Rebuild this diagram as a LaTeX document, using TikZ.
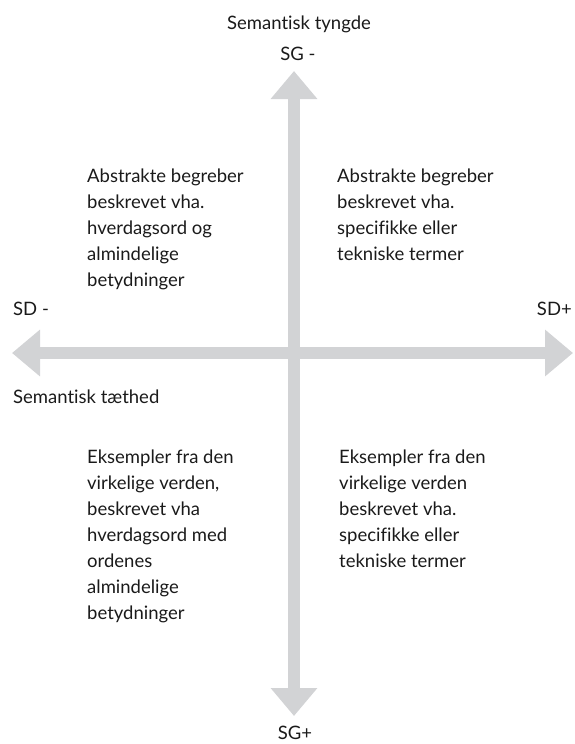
\documentclass[tikz,border=0pt]{standalone}
\usepackage{fontspec}
\setmainfont{Lato}[Ligatures={NoCommon}]
\usepackage{xcolor}
\definecolor{AxisGrey}{HTML}{D2D3D5}
\definecolor{TextDark}{HTML}{1A1A1A}
\usepackage{tikz}
\usetikzlibrary{arrows.meta,positioning}

\begin{document}
\begin{tikzpicture}[
        x=1pt, y=-1pt,
        axis/.style={AxisGrey, line width=12pt, {Triangle[width=45pt,length=28pt]}-{Triangle[width=45pt,length=28pt]}},
        pole/.style={font=\fontsize{18.5}{22}\selectfont, text=TextDark, inner sep=0pt},
        quadrant/.style={font=\fontsize{18.5}{26}\selectfont, text=TextDark, align=left, anchor=north west, inner sep=0pt}
    ]
        \useasboundingbox (0,0) rectangle (574,744);

        % Axes
        \coordinate (sgminus) at (294,71);
        \coordinate (sgplus) at (294,716);
        \coordinate (sdminus) at (12,353);
        \coordinate (sdplus) at (573,353);
        \draw[axis] (sdminus) -- (sdplus);
        \draw[axis] (sgminus) -- (sgplus);

        % Labels
        \node[pole, anchor=base] (tyngde) at (299,29) {Semantisk tyngde};
        \node[pole, anchor=base] (sgtop) at (298,60) {SG -};
        \node[pole, anchor=base] (sgbottom) at (295,739) {SG+};
        \node[pole, anchor=base west] (sdleft) at (13,315) {SD -};
        \node[pole, anchor=base east] (sdright) at (572,315) {SD+};
        \node[pole, anchor=base west] (taethed) at (13,403) {Semantisk tæthed};

        % Quadrants
        \node[quadrant] (abstrakthverdag) at (87,168.5) {Abstrakte begreber\\beskrevet vha.\\hverdagsord og\\almindelige\\betydninger};
        \node[quadrant] (abstraktteknisk) at (337,168.5) {Abstrakte begreber\\beskrevet vha.\\specifikke eller\\tekniske termer};
        \node[quadrant] (eksempelhverdag) at (87,449.5) {Eksempler fra den\\virkelige verden,\\beskrevet vha\\hverdagsord med\\ordenes\\almindelige\\betydninger};
        \node[quadrant] (eksempelteknisk) at (339,449.5) {Eksempler fra den\\virkelige verden\\beskrevet vha.\\specifikke eller\\tekniske termer};

    \end{tikzpicture}
\end{document}
